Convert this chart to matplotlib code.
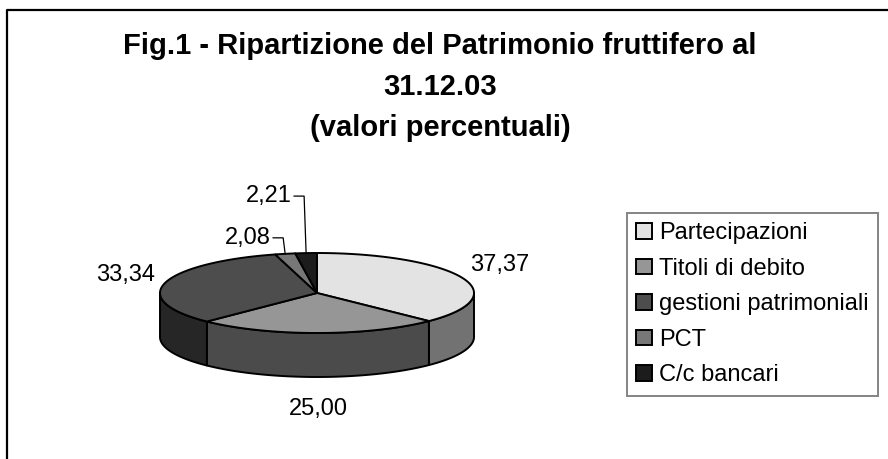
import numpy as np
import matplotlib
matplotlib.use("Agg")
import matplotlib.pyplot as plt
from matplotlib.patches import Polygon, Patch
from matplotlib.lines import Line2D

plt.rcParams['font.family'] = ['Liberation Sans', 'DejaVu Sans']

# data
categories = ['Partecipazioni', 'Titoli di debito', 'gestioni patrimoniali', 'PCT', 'C/c bancari']
values = [37.37, 25.00, 33.34, 2.08, 2.21]
value_labels = ['37,37', '25,00', '33,34', '2,08', '2,21']
title_lines = ['Fig.1 - Ripartizione del Patrimonio fruttifero al', '31.12.03', '(valori percentuali)']

top_colors = ['#e3e3e3', '#969696', '#4d4d4d', '#777777', '#1c1c1c']
side_colors = ['#727272', '#4b4b4b', '#262626', '#3c3c3c', '#0e0e0e']

# layout (pixels, y down)
W, H = 888, 459
CX, CY = 317, 293
RX, RY = 157, 40
DEPTH = 44
leader_rise = {3: 16, 4: 57}

fig = plt.figure(figsize=(W / 100, H / 100), dpi=100)
ax = fig.add_axes([0, 0, 1, 1])
ax.set_xlim(0, W)
ax.set_ylim(H, 0)
ax.axis('off')


def rim(theta_deg, dy=0, rx=RX, ry=RY):
    t = np.radians(theta_deg)
    return CX + rx * np.cos(t), CY - ry * np.sin(t) + dy


# slice angles, clockwise from 12 o'clock
total = sum(values)
spans = 360 * np.array(values) / total
starts = 90 - np.concatenate([[0], np.cumsum(spans)[:-1]])
ends = starts - spans

lw = 1.4
# front side walls
for i in range(len(values)):
    lo, hi = ends[i], starts[i]
    for wlo, whi in [(-180, 0), (-540, -360), (180, 360)]:
        a, b = max(lo, wlo), min(hi, whi)
        if b - a <= 0:
            continue
        th = np.linspace(a, b, 60)
        xt, yt = rim(th)
        xb, yb = rim(th[::-1], DEPTH)
        pts = np.column_stack([np.concatenate([xt, xb]), np.concatenate([yt, yb])])
        ax.add_patch(Polygon(pts, closed=True, facecolor=side_colors[i],
                             edgecolor='black', linewidth=lw, joinstyle='round'))

# top faces
for i in range(len(values)):
    th = np.linspace(ends[i], starts[i], 100)
    xt, yt = rim(th)
    pts = np.column_stack([np.concatenate([[CX], xt]), np.concatenate([[CY], yt])])
    ax.add_patch(Polygon(pts, closed=True, facecolor=top_colors[i],
                         edgecolor='black', linewidth=lw, joinstyle='round'))

# data labels
for i, lab in enumerate(value_labels):
    mid = (starts[i] + ends[i]) / 2
    if i in leader_rise:
        x0, y0 = rim(mid)
        y1 = y0 - leader_rise[i]
        ax.plot([x0, x0 - 2, x0 - 12], [y0, y1, y1], color='black', lw=0.9)
        ax.text(x0 - 14, y1, lab, ha='right', va='center', fontsize=17)
    else:
        dy = DEPTH if np.sin(np.radians(mid)) < 0 else 0
        x, y = rim(mid, dy, RX + 41, RY + 32)
        ax.text(x, y, lab, ha='center', va='center', fontsize=17)

# title
for k, line in enumerate(title_lines):
    ax.text(440, 46 + 41 * k, line, ha='center', va='center',
            fontsize=21, fontweight='bold')

# outer frame (cropped on right and bottom)
fig.add_artist(Line2D([7 / W, 7 / W, 1.0], [0.0, 1 - 10 / H, 1 - 10 / H],
                      transform=fig.transFigure, color='black', lw=1.6))

handles = [Patch(facecolor=c, edgecolor='black', linewidth=1.4) for c in top_colors]
leg = fig.legend(handles, categories, loc='upper left',
                 bbox_to_anchor=(627 / W, 1 - 213 / H), fontsize=17,
                 frameon=True, fancybox=False, edgecolor='#666666',
                 handlelength=0.65, handleheight=0.65, handletextpad=0.3,
                 labelspacing=0.57, borderpad=0.4, borderaxespad=0)
leg.get_frame().set_linewidth(1.4)

fig.savefig('out.png', dpi=100)
